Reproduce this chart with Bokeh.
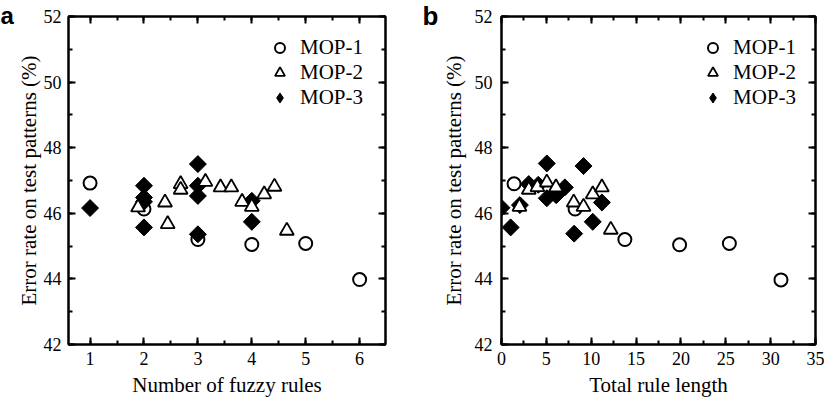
from math import pi
from bokeh.plotting import figure
from bokeh.layouts import row
from bokeh.models import (Range1d, LinearAxis, SingleIntervalTicker, Legend,
                          LegendItem, Label)
from bokeh.embed import file_html
from bokeh.resources import INLINE

# ---------------- data ----------------
# panel a: number of fuzzy rules
a_mop1_x = [1, 2, 3, 4, 5, 6]
a_mop1_y = [46.92, 46.13, 45.20, 45.05, 45.08, 43.98]
a_mop2_x = [1.89, 2.39, 2.44, 2.68, 2.68, 3.14, 3.42, 3.62, 3.82, 4.0, 4.23, 4.42, 4.65]
a_mop2_y = [46.18, 46.33, 45.67, 46.89, 46.72, 46.96, 46.79, 46.79, 46.35, 46.2, 46.58, 46.81, 45.47]
a_mop3_x = [1, 2, 2, 2, 2, 3, 3, 3, 3, 4, 4]
a_mop3_y = [46.16, 46.84, 46.48, 46.35, 45.57, 47.50, 46.84, 46.53, 45.36, 46.38, 45.74]

# panel b: total rule length
b_mop1_x = [1.4, 8.2, 13.75, 19.85, 25.4, 31.15]
b_mop1_y = [46.9, 46.13, 45.2, 45.04, 45.08, 43.97]
b_mop2_x = [2.0, 3.04, 4.0, 5.05, 6.07, 8.05, 9.14, 10.17, 11.19, 12.18]
b_mop2_y = [46.2, 46.72, 46.8, 46.94, 46.79, 46.33, 46.2, 46.58, 46.79, 45.5]
b_mop3_x = [0, 1.02, 2.05, 3.04, 4.1, 5.05, 5.05, 6.1, 7.06, 8.1, 9.14, 10.17, 11.19]
b_mop3_y = [46.17, 45.57, 46.25, 46.89, 46.87, 47.52, 46.46, 46.55, 46.79, 45.38, 47.44, 45.74, 46.33]

series_names = ["MOP-1", "MOP-2", "MOP-3"]
y_label = "Error rate on test patterns (%)"

SERIF = "Liberation Serif"
FIG_H = 401
FRAME_H = 328
TOP = 16


def style_axis(ax, ticker, labels=True):
    ax.ticker = ticker
    ax.axis_line_color = "black"
    ax.axis_line_width = 2
    ax.major_tick_in = 7
    ax.major_tick_out = 0
    ax.minor_tick_in = 4
    ax.minor_tick_out = 0
    ax.major_tick_line_width = 2
    ax.minor_tick_line_width = 2
    ax.major_tick_line_color = "black"
    ax.minor_tick_line_color = "black"
    if labels:
        ax.major_label_text_font = SERIF
        ax.major_label_text_font_size = "18px"
        ax.major_label_text_color = "black"
        ax.axis_label_text_font = SERIF
        ax.axis_label_text_font_size = "21px"
        ax.axis_label_text_font_style = "normal"
        ax.axis_label_text_color = "black"
    else:
        ax.major_label_text_font_size = "0px"
        ax.major_label_text_color = None
        ax.major_label_standoff = 0


def make_panel(xs, ys, x_range, x_interval, x_label, letter, width,
               border_left, border_right, ylab_standoff, ytick_standoff,
               letter_size):
    p = figure(width=width, height=FIG_H, output_backend="svg",
               toolbar_location=None, x_range=Range1d(*x_range),
               y_range=Range1d(42, 52), min_border_left=border_left,
               min_border_right=border_right, min_border_top=TOP,
               min_border_bottom=FIG_H - TOP - FRAME_H)
    p.grid.visible = False
    p.outline_line_color = "black"
    p.outline_line_width = 2
    p.background_fill_color = "white"
    p.border_fill_color = "white"

    xt = SingleIntervalTicker(interval=x_interval, num_minor_ticks=2)
    yt = SingleIntervalTicker(interval=2, num_minor_ticks=2)
    style_axis(p.xaxis[0], xt)
    style_axis(p.yaxis[0], yt)
    p.xaxis[0].axis_label = x_label
    p.yaxis[0].axis_label = y_label
    p.xaxis[0].major_label_standoff = 7
    p.xaxis[0].axis_label_standoff = 5
    p.yaxis[0].major_label_standoff = ytick_standoff
    p.yaxis[0].axis_label_standoff = ylab_standoff

    top = LinearAxis()
    style_axis(top, SingleIntervalTicker(interval=x_interval, num_minor_ticks=2), labels=False)
    p.add_layout(top, "above")
    right = LinearAxis()
    style_axis(right, SingleIntervalTicker(interval=2, num_minor_ticks=2), labels=False)
    p.add_layout(right, "right")

    (x1, x2, x3), (y1, y2, y3) = xs, ys
    r1 = p.scatter(x1, y1, marker="circle", size=13, fill_color="white",
                   line_color="black", line_width=2)
    # plain diamond (used as legend key), fully covered by the rotated squares
    r3 = p.scatter(x3, y3, marker="diamond", size=15,
                   fill_color="black", line_color="black", line_width=1)
    p.scatter(x3, y3, marker="square", angle=pi / 4, size=12,
              fill_color="black", line_color="black", line_width=1)
    r2 = p.scatter(x2, y2, marker="triangle", size=14, fill_color="white",
                   line_color="black", line_width=1.8)

    legend = Legend(items=[LegendItem(label=series_names[0], renderers=[r1]),
                           LegendItem(label=series_names[1], renderers=[r2]),
                           LegendItem(label=series_names[2], renderers=[r3])],
                    location=(199, 234))
    legend.label_text_font = SERIF
    legend.label_text_font_size = "21px"
    legend.label_text_color = "black"
    legend.background_fill_alpha = 0
    legend.border_line_color = None
    legend.glyph_width = 25
    legend.glyph_height = 25
    legend.label_height = 25
    legend.spacing = 0
    legend.label_standoff = 8
    legend.padding = 10
    legend.margin = 0
    p.add_layout(legend, "center")

    # panel letter, in its own side panel left of the y axis (not clipped)
    p.add_layout(Label(x=0, y=FRAME_H + 1, x_units="screen", y_units="screen",
                       text=letter, text_font="Liberation Sans",
                       text_font_style="bold", text_font_size=letter_size,
                       text_baseline="alphabetic", text_align="left",
                       text_color="black"), "left")
    return p


pa = make_panel((a_mop1_x, a_mop2_x, a_mop3_x), (a_mop1_y, a_mop2_y, a_mop3_y),
                (0.6, 6.48), 1, "Number of fuzzy rules", "a", 422, 62, 37, 0, 7,
                "24px")
pb = make_panel((b_mop1_x, b_mop2_x, b_mop3_x), (b_mop1_y, b_mop2_y, b_mop3_y),
                (0, 35), 5, "Total rule length", "b", 402, 74, 9, 6, 9, "26px")

layout = row(pa, pb)
open("out.html", "w").write(file_html(layout, INLINE))
